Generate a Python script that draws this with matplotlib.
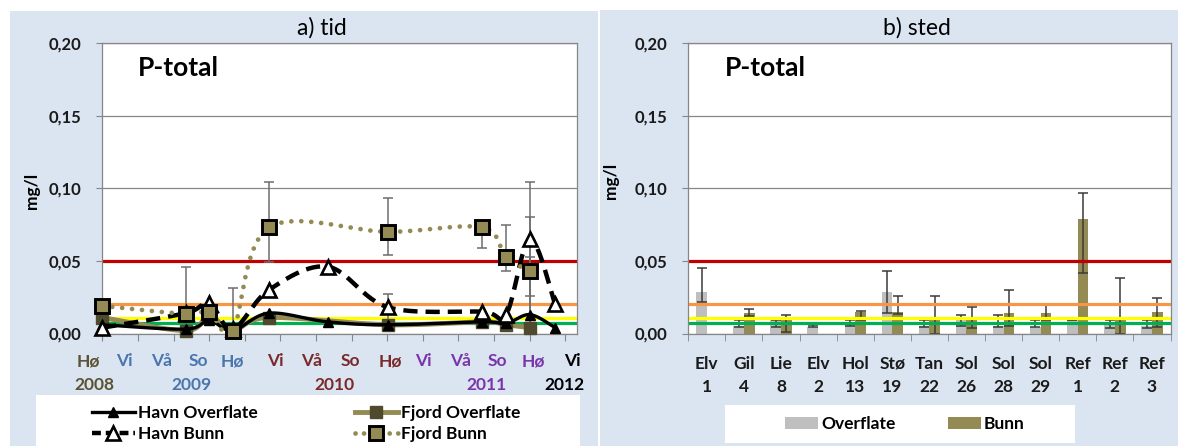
import numpy as np
import matplotlib
matplotlib.use('Agg')
import matplotlib.pyplot as plt
from matplotlib.patches import Rectangle, Patch
from matplotlib.lines import Line2D

plt.rcParams['font.family'] = ['Lato', 'DejaVu Sans']

# ---------- data: a) tid ----------
# x in seasons after autumn 2008 (one tick per season)
t_havn = [0, 2.34, 3.0, 3.66, 4.68, 6.33, 8.03, 10.67, 11.34, 12.01, 12.72]
havn_overflate = [0.006, 0.003, 0.009, 0.002, 0.014, 0.008, 0.006, 0.008, 0.007, 0.013, 0.004]
havn_overflate_lo = [0, 0, 0, 0, 0, 0, 0, 0, 0, 0.013, 0]
havn_overflate_hi = [0, 0, 0, 0, 0, 0, 0, 0, 0, 0.0395, 0]
havn_bunn = [0.004, 0.014, 0.021, 0.003, 0.030, 0.046, 0.018, 0.015, 0.013, 0.065, 0.020]
havn_bunn_lo = [0, 0, 0, 0, 0, 0, 0.009, 0, 0, 0.0395, 0]
havn_bunn_hi = [0, 0, 0, 0, 0, 0, 0.009, 0, 0, 0.0395, 0]

t_fjord = [0, 2.34, 3.0, 3.66, 4.68, 8.03, 10.67, 11.34, 12.01]
fjord_overflate = [0.011, 0.002, 0.012, 0.002, 0.011, 0.006, 0.008, 0.006, 0.004]
fjord_bunn = [0.019, 0.0135, 0.015, 0.002, 0.073, 0.070, 0.073, 0.0525, 0.043]
fjord_bunn_lo = [0, 0.0135, 0, 0.002, 0.024, 0.016, 0.014, 0.0093, 0.037]
fjord_bunn_hi = [0, 0.032, 0, 0.029, 0.031, 0.023, 0, 0.022, 0.037]

season_labels = ['Hø', 'Vi', 'Vå', 'So', 'Hø', 'Vi', 'Vå', 'So', 'Hø', 'Vi', 'Vå', 'So', 'Hø', 'Vi']
season_pos = [-0.4, 0.61, 1.67, 2.71, 3.66, 4.85, 5.88, 6.96, 8.08, 9.01, 10.05, 11.1, 12.1, 13.19]
season_year = [0, 1, 1, 1, 1, 2, 2, 2, 2, 3, 3, 3, 3, 4]
year_labels = ['2008', '2009', '2010', '2011', '2012']
year_pos = [-0.23, 2.49, 6.51, 10.78, 12.97]
year_colors = ['#5c5334', '#4a76ae', '#7a2a2a', '#7a35aa', '#000000']

# ---------- data: b) sted ----------
stations = ['Elv', 'Gil', 'Lie', 'Elv', 'Hol', 'Stø', 'Tan', 'Sol', 'Sol', 'Sol', 'Ref', 'Ref', 'Ref']
station_nr = ['1', '4', '8', '2', '13', '19', '22', '26', '28', '29', '1', '2', '3']
overflate = [0.0287, 0.005, 0.0092, 0.0046, 0.006, 0.0287, 0.005, 0.009, 0.005, 0.0046, 0.0096, 0.0062, 0.005]
overflate_lo_end = [0.0215, 0.0046, 0.0046, 0.0044, 0.0055, 0.0141, 0.0046, 0.0055, 0.0046, 0.0046, 0.0096, 0.0039, 0.0039]
overflate_hi_end = [0.0452, 0.0096, 0.0096, 0.006, 0.0092, 0.0433, 0.009, 0.0129, 0.0129, 0.0096, 0.0096, 0.0092, 0.0096]
bunn = [np.nan, 0.0138, 0.010, np.nan, 0.0147, 0.0151, 0.010, 0.010, 0.0138, 0.0142, 0.0789, 0.010, 0.0151]
bunn_lo_end = [np.nan, 0.012, 0.0007, np.nan, 0.0092, 0.0135, 0.0, 0.0039, 0.005, 0.0096, 0.0417, 0.0, 0.0046]
bunn_hi_end = [np.nan, 0.017, 0.0126, np.nan, 0.0156, 0.0257, 0.0257, 0.0184, 0.0298, 0.0193, 0.0968, 0.0385, 0.0243]

# class limits (mg/l)
limits = [0.05, 0.02, 0.011, 0.007]
limit_colors = ['#c00000', '#f79646', '#ffff00', '#00b050']

OLIVE = '#948a54'
DARK_OLIVE = '#4f4a2e'
GREY = '#bfbfbf'
BLUE_BG = '#dbe5f1'
AX_GREY = '#868686'
FS = 12.5

W, H = 1178, 446
def fx(px):
    return px / W
def fy(py):
    return 1 - py / H


def smooth(x, y, n=30):
    # excel-like smoothed line (bezier through the points), done in pixel-ish units
    sx, sy = 35.6, 1450.0
    P = np.column_stack([np.asarray(x, float) * sx, np.asarray(y, float) * sy])
    P = np.vstack([P[0], P, P[-1]])
    t = np.linspace(0, 1, n)[:, None]
    segs = []
    for i in range(1, len(P) - 2):
        p0, p1, p2, p3 = P[i - 1], P[i], P[i + 1], P[i + 2]
        c1 = p1 + (p2 - p0) / 6
        c2 = p2 - (p3 - p1) / 6
        segs.append((1 - t) ** 3 * p1 + 3 * (1 - t) ** 2 * t * c1 + 3 * (1 - t) * t ** 2 * c2 + t ** 3 * p2)
    pts = np.vstack(segs)
    return pts[:, 0] / sx, pts[:, 1] / sy


def yfmt(v):
    return f'{v:.2f}'.replace('.', ',')


fig = plt.figure(figsize=(11.78, 4.46), dpi=100)
fig.patch.set_facecolor('white')

# panel backgrounds
def bg(x0, y0, x1, y1, color):
    fig.add_artist(Rectangle((fx(x0), fy(y1)), fx(x1) - fx(x0), fy(y0) - fy(y1), transform=fig.transFigure,
                             facecolor=color, edgecolor='none', zorder=-10))

bg(9.6, 11, 598, 446, BLUE_BG)
bg(600, 10, 1178, 446, BLUE_BG)
bg(36, 395, 580, 446, 'white')
bg(725, 405, 1075, 443, 'white')


def style_axes(ax):
    ax.set_ylim(0, 0.2)
    ax.set_yticks([0, 0.05, 0.10, 0.15, 0.20])
    ax.set_yticklabels([yfmt(v) for v in [0, 0.05, 0.10, 0.15, 0.20]])
    ax.yaxis.grid(True, color=AX_GREY, lw=0.9)
    ax.set_axisbelow(True)
    for s in ax.spines.values():
        s.set_color(AX_GREY)
        s.set_linewidth(0.9)
    ax.tick_params(axis='y', direction='out', length=4, color=AX_GREY, pad=11,
                   labelsize=12, labelcolor='#1a1a1a')
    for lab in ax.get_yticklabels():
        lab.set_fontweight('bold')
    for v, c in zip(limits, limit_colors):
        ax.axhline(v, color=c, lw=2.3, zorder=1.5)


# ================= a) tid =================
ax1 = fig.add_axes([fx(102.3), fy(333.5), fx(577.3) - fx(102.3), fy(43) - fy(333.5)])
style_axes(ax1)
ax1.set_xlim(0, 13.34)
ax1.set_xticks(range(14))
ax1.set_xticklabels([])
ax1.tick_params(axis='x', direction='out', length=5, color=AX_GREY)

# Fjord Overflate
xs, ys = smooth(t_fjord, fjord_overflate)
ax1.plot(xs, ys, color=OLIVE, lw=3.5, zorder=3, clip_on=False)
ax1.plot(t_fjord, fjord_overflate, ls='none', marker='s', ms=9, mfc=DARK_OLIVE, mec=DARK_OLIVE,
         zorder=3.1, clip_on=False)

# Havn Overflate
xs, ys = smooth(t_havn, havn_overflate)
ax1.plot(xs, ys, color='black', lw=2.4, zorder=3.2, clip_on=False)
ax1.plot(t_havn, havn_overflate, ls='none', marker='^', ms=7, mfc='black', mec='black',
         zorder=3.3, clip_on=False)

# Havn Bunn
xs, ys = smooth(t_havn, havn_bunn)
ax1.plot(xs, ys, color='black', lw=3.2, ls=(0, (3.2, 1.8)), zorder=3.4, clip_on=False)
ax1.plot(t_havn, havn_bunn, ls='none', marker='^', ms=10.5, mfc='white', mec='black', mew=1.9,
         zorder=3.5, clip_on=False)

# Fjord Bunn
xs, ys = smooth(t_fjord, fjord_bunn)
ax1.plot(xs, ys, color=OLIVE, lw=3.4, ls=(0, (0.01, 2.1)), dash_capstyle='round', zorder=3.6, clip_on=False)
ax1.plot(t_fjord, fjord_bunn, ls='none', marker='s', ms=10, mfc=OLIVE, mec='black', mew=2.1,
         zorder=3.7, clip_on=False)


def err(ax, x, y, lo, hi, color, z):
    x = np.asarray(x, float); y = np.asarray(y, float)
    lo = np.asarray(lo, float); hi = np.asarray(hi, float)
    m = (lo > 0) | (hi > 0)
    ax.errorbar(x[m], y[m], yerr=[lo[m], hi[m]], fmt='none', ecolor=color, elinewidth=1.1,
                capsize=3.5, capthick=1.1, zorder=z)


err(ax1, t_fjord, fjord_bunn, fjord_bunn_lo, fjord_bunn_hi, '#6e6e6e', 2.5)
err(ax1, t_havn, havn_bunn, havn_bunn_lo, havn_bunn_hi, '#6e6e6e', 2.5)
err(ax1, t_havn, havn_overflate, havn_overflate_lo, havn_overflate_hi, '#6e6e6e', 2.5)

# season / year labels under the axis
xt = ax1.get_xaxis_transform()
for lab, pos, yi in zip(season_labels, season_pos, season_year):
    ax1.text(pos, -0.096, lab, transform=xt, ha='center', va='center', fontsize=FS,
             fontweight='bold', color=year_colors[yi], clip_on=False)
for lab, pos, c in zip(year_labels, year_pos, year_colors):
    ax1.text(pos, -0.176, lab, transform=xt, ha='center', va='center', fontsize=FS,
             fontweight='bold', color=c, clip_on=False)

fig.text(fx(322), fy(28), 'a) tid', ha='center', va='center', fontsize=16.5)
fig.text(fx(138), fy(68), 'P-total', ha='left', va='center', fontsize=19, fontweight='bold')
fig.text(fx(32), fy(191), 'mg/l', ha='center', va='center', rotation=90, fontsize=FS, fontweight='bold')

h_left = [
    Line2D([], [], color='black', lw=2.4, marker='^', ms=7, mfc='black', mec='black'),
    Line2D([], [], color='black', lw=3.2, ls=(0, (2.0, 1.1)), marker='^', ms=10, mfc='white', mec='black', mew=1.9),
    Line2D([], [], color=OLIVE, lw=3.5, marker='s', ms=9, mfc=DARK_OLIVE, mec=DARK_OLIVE),
    Line2D([], [], color=OLIVE, lw=3.4, ls=(0, (0.01, 1.8)), dash_capstyle='round', marker='s', ms=10,
           mfc=OLIVE, mec='black', mew=2.1),
]
fig.legend(h_left, ['Havn Overflate', 'Havn Bunn', 'Fjord Overflate', 'Fjord Bunn'], ncol=2,
           loc='upper left', bbox_to_anchor=(fx(83), fy(396)), frameon=False, borderpad=0,
           handlelength=2.5, handletextpad=0.15, columnspacing=5.6, labelspacing=0.3,
           prop={'size': FS, 'weight': 'bold'})

# ================= b) sted =================
ax2 = fig.add_axes([fx(688.3), fy(333.5), fx(1170.5) - fx(688.3), fy(43) - fy(333.5)])
style_axes(ax2)
n = len(stations)
idx = np.arange(n)
bw = 0.288
ax2.set_xlim(-0.5, n - 0.5)
ax2.bar(idx - bw / 2, overflate, width=bw, color=GREY, zorder=1)
ax2.bar(idx + bw / 2, bunn, width=bw, color=OLIVE, zorder=1)

ov = np.asarray(overflate); bn = np.asarray(bunn)
ax2.errorbar(idx - bw / 2, ov, yerr=[ov - np.asarray(overflate_lo_end), np.asarray(overflate_hi_end) - ov],
             fmt='none', ecolor='#3a3a3a', elinewidth=1.1, capsize=3.5, capthick=1.1, zorder=1.2)
m = ~np.isnan(bn)
ax2.errorbar((idx + bw / 2)[m], bn[m],
             yerr=[(bn - np.asarray(bunn_lo_end))[m], (np.asarray(bunn_hi_end) - bn)[m]],
             fmt='none', ecolor='#3a3a3a', elinewidth=1.1, capsize=3.5, capthick=1.1, zorder=1.2)

ax2.set_xticks(idx)
ax2.set_xticklabels([f'{s}\n{nr}' for s, nr in zip(stations, station_nr)], fontsize=FS,
                    fontweight='bold', linespacing=1.55)
ax2.tick_params(axis='x', which='major', length=0, pad=16, labelcolor='#1a1a1a')
ax2.set_xticks(np.arange(-0.5, n), minor=True)
ax2.tick_params(axis='x', which='minor', direction='out', length=5, color=AX_GREY)

fig.text(fx(917), fy(28), 'b) sted', ha='center', va='center', fontsize=16.5)
fig.text(fx(725), fy(68), 'P-total', ha='left', va='center', fontsize=19, fontweight='bold')
fig.text(fx(611), fy(181), 'mg/l', ha='center', va='center', rotation=90, fontsize=FS, fontweight='bold')

h_right = [Patch(facecolor=GREY, edgecolor='none'), Patch(facecolor=OLIVE, edgecolor='none')]
fig.legend(h_right, ['Overflate', 'Bunn'], ncol=2, loc='center left',
           bbox_to_anchor=(fx(776), fy(424)), frameon=False, borderpad=0,
           handlelength=1.9, handleheight=0.75, handletextpad=0.2, columnspacing=3.0,
           prop={'size': FS, 'weight': 'bold'})

fig.savefig('out.png', dpi=100)
